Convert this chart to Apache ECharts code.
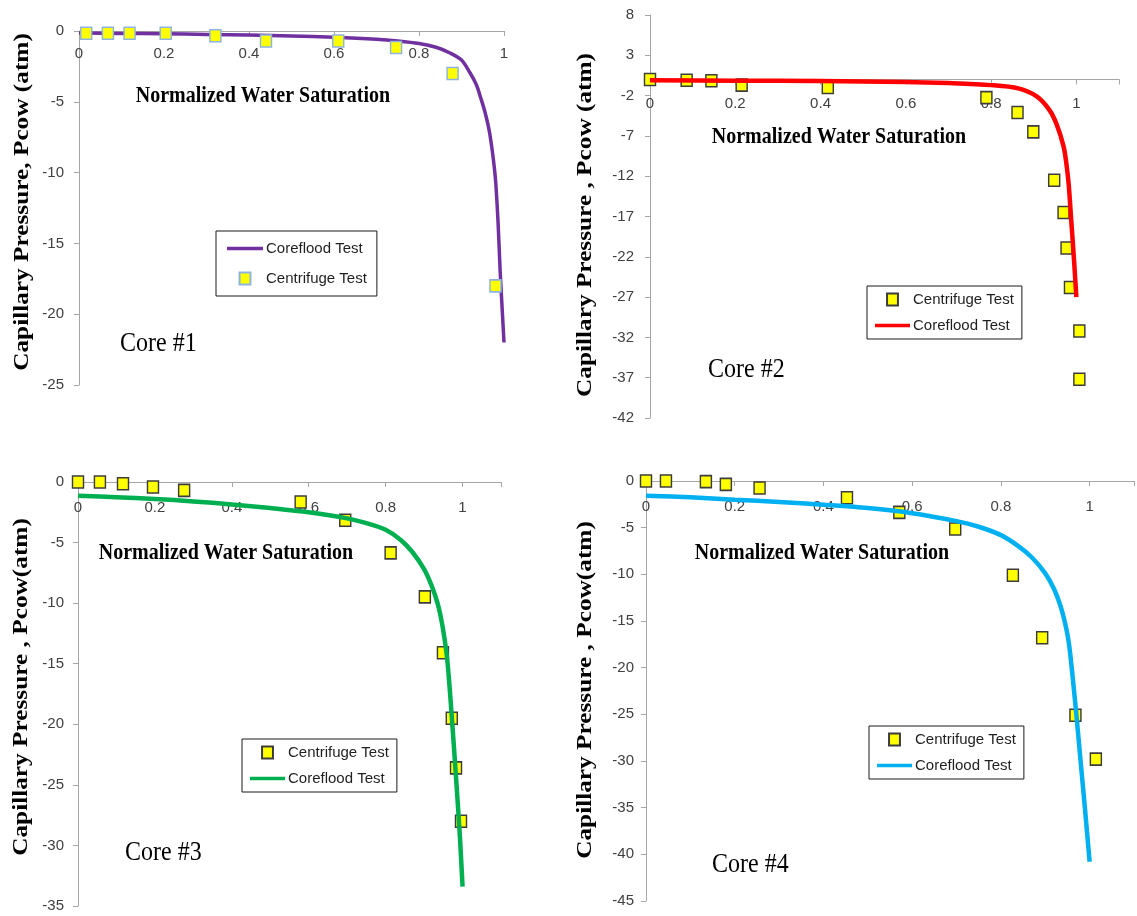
<!DOCTYPE html>
<html>
<head>
<meta charset="utf-8">
<script src="https://cdn.jsdelivr.net/npm/echarts@6/dist/echarts.min.js"></script>
<style>
  html, body { margin: 0; padding: 0; background: #ffffff; }
  #chart { width: 1137px; height: 916px; }
</style>
</head>
<body>
<div id="chart"></div>
<script>
// ---- Core #1 ----
const core1FloodSw = [0, 0.1, 0.2, 0.3, 0.4, 0.5, 0.6, 0.7, 0.75, 0.8, 0.84, 0.873, 0.9, 0.92, 0.935, 0.945, 0.955, 0.965, 0.973, 0.98, 0.986, 0.991, 0.996, 1.0];
const core1FloodPc = [-0.15, -0.17, -0.2, -0.24, -0.29, -0.35, -0.44, -0.58, -0.7, -0.88, -1.15, -1.55, -2.05, -2.95, -3.8, -4.7, -5.7, -7.0, -8.6, -10.5, -13.5, -17, -19.8, -22];
const core1CentSw = [0.017, 0.068, 0.119, 0.204, 0.321, 0.440, 0.610, 0.746, 0.879, 0.980];
const core1CentPc = [-0.16, -0.16, -0.16, -0.16, -0.33, -0.7, -0.7, -1.17, -3.0, -18.0];

// ---- Core #2 ----
const core2FloodSw = [0, 0.2, 0.4, 0.6, 0.7, 0.8, 0.864, 0.907, 0.937, 0.954, 0.97, 0.976, 0.982, 0.988, 0.994, 1.0];
const core2FloodPc = [-0.1, -0.15, -0.2, -0.3, -0.45, -0.7, -1.1, -2.1, -3.8, -5.6, -8.3, -10.2, -13, -17.5, -22, -27];
const core2CentSw = [0, 0.086, 0.144, 0.215, 0.417, 0.789, 0.862, 0.899, 0.948, 0.970, 0.977, 0.985, 1.007, 1.007];
const core2CentPc = [0, -0.1, -0.15, -0.7, -1.0, -2.25, -4.1, -6.5, -12.5, -16.5, -20.9, -25.8, -31.2, -37.2];

// ---- Core #3 ----
const core3FloodSw = [0, 0.1, 0.2, 0.3, 0.4, 0.5, 0.6, 0.7, 0.75, 0.8, 0.84, 0.87, 0.9, 0.92, 0.935, 0.945, 0.953, 0.96, 0.967, 0.975, 0.985, 0.993, 1.0];
const core3FloodPc = [-1.13, -1.25, -1.4, -1.6, -1.85, -2.15, -2.5, -3.0, -3.4, -3.95, -4.8, -5.8, -7.2, -8.6, -10.0, -11.4, -12.9, -14.6, -17.2, -20.7, -25.3, -29.2, -33.4];
const core3CentSw = [0, 0.057, 0.117, 0.195, 0.276, 0.579, 0.695, 0.813, 0.902, 0.949, 0.972, 0.983, 0.996];
const core3CentPc = [0, 0, -0.14, -0.41, -0.69, -1.65, -3.16, -5.85, -9.48, -14.1, -19.5, -23.6, -28.0];

// ---- Core #4 ----
const core4FloodSw = [0, 0.1, 0.2, 0.3, 0.4, 0.5, 0.6, 0.7, 0.75, 0.8, 0.84, 0.87, 0.9, 0.92, 0.935, 0.945, 0.953, 0.96, 0.97, 0.98, 0.99, 1.0];
const core4FloodPc = [-1.57, -1.75, -2.0, -2.25, -2.55, -2.9, -3.45, -4.3, -4.9, -5.8, -7.0, -8.2, -9.9, -11.6, -13.5, -15.3, -17.3, -20.2, -25.0, -30.2, -35.4, -40.8];
const core4CentSw = [0, 0.045, 0.135, 0.180, 0.256, 0.453, 0.571, 0.697, 0.827, 0.893, 0.968, 1.014];
const core4CentPc = [0, 0, -0.07, -0.36, -0.75, -1.79, -3.36, -5.15, -10.1, -16.8, -25.1, -29.8];

// Tick labels along the saturation axis
const swTickLabels = ['0', '0.2', '0.4', '0.6', '0.8', '1'];

const xTitle = 'Normalized Water Saturation';
const yTitles = [
  'Capillary Pressure, Pcow (atm)',
  'Capillary Pressure , Pcow (atm)',
  'Capillary Pressure , Pcow(atm)',
  'Capillary Pressure , Pcow(atm)'
];
const coreNames = ['Core #1', 'Core #2', 'Core #3', 'Core #4'];
const floodName = 'Coreflood Test';
const centName = 'Centrifuge Test';

const zip = (a, b) => a.map((v, i) => [v, b[i]]);

const SANS = '"Liberation Sans", Arial, sans-serif';
const SERIF = '"Liberation Serif", "Times New Roman", serif';
const AXIS_GREY = '#a6a6a6';
const LABEL_GREY = '#404040';

// Plot-area boxes and axis ranges of the four panels
const panels = [
  { left: 79,  top: 31,  width: 425, height: 354, xMax: 1.0, yMin: -25, yMax: 0, xMargin: 15, yMargin: 15,
    color: '#7030a0', lineW: 3.5, border: '#8db3e2', lineFirst: true,
    flood: zip(core1FloodSw, core1FloodPc), cent: zip(core1CentSw, core1CentPc) },
  { left: 650, top: 15,  width: 469, height: 403, xMax: 1.1, yMin: -42, yMax: 8, xMargin: 17, yMargin: 16,
    color: '#ff0000', lineW: 4.5, border: '#3c3c3c', lineFirst: false,
    flood: zip(core2FloodSw, core2FloodPc), cent: zip(core2CentSw, core2CentPc) },
  { left: 78,  top: 482, width: 423, height: 424, xMax: 1.1, yMin: -35, yMax: 0, xMargin: 18, yMargin: 14,
    color: '#00b050', lineW: 4.5, border: '#3c3c3c', lineFirst: false,
    flood: zip(core3FloodSw, core3FloodPc), cent: zip(core3CentSw, core3CentPc) },
  { left: 646, top: 481, width: 496, height: 420, xMax: 1.1, yMin: -45, yMax: 0, xMargin: 18, yMargin: 12,
    color: '#00b0f0', lineW: 4.5, border: '#3c3c3c', lineFirst: false,
    flood: zip(core4FloodSw, core4FloodPc), cent: zip(core4CentSw, core4CentPc) }
];

// Legend boxes, axis titles and core labels
const legendBoxes = [
  { left: 216, top: 231, padding: [10, 10, 10, 11], itemGap: 15, itemWidth: 36, order: ['flood', 'cent'] },
  { left: 867, top: 286, padding: [6, 8, 6, 8], itemGap: 11, itemWidth: 35, order: ['cent', 'flood'] },
  { left: 242, top: 739, padding: [6, 8, 6, 8], itemGap: 11, itemWidth: 35, order: ['cent', 'flood'] },
  { left: 869, top: 726, padding: [6, 8, 6, 8], itemGap: 11, itemWidth: 35, order: ['cent', 'flood'] }
];
const xTitlePos = [[263, 96], [839, 137], [226, 553], [822, 553]];
const yTitlePos = [[22, 202], [585, 225], [21, 687], [585, 690]];
const coreLabelPos = [[120, 344], [708, 370], [125, 853], [712, 865]];

const LINE_ICON = 'path://M0,0H40V4H0Z';
const SQUARE_ICON = 'path://M0,0H10V11H0Z';

const grid = [], xAxis = [], yAxis = [], series = [], legend = [], graphic = [];

panels.forEach((p, i) => {
  grid.push({ left: p.left, top: p.top, width: p.width, height: p.height, containLabel: false });

  // The saturation axis sits where Pcow = 0: pull a top axis down into the plot area.
  const zeroDrop = (p.yMax / (p.yMax - p.yMin)) * p.height;
  xAxis.push({
    gridIndex: i, type: 'value', min: 0, max: p.xMax, interval: 0.2,
    position: 'top', offset: -zeroDrop,
    axisLine: { show: true, onZero: false, lineStyle: { color: AXIS_GREY, width: 1 } },
    axisTick: { show: true, inside: true, length: 5, lineStyle: { color: AXIS_GREY } },
    axisLabel: {
      inside: true, margin: p.xMargin, fontFamily: SANS, fontSize: 15, color: LABEL_GREY,
      formatter: v => {
        const k = Math.round(v / 0.2);
        return (Math.abs(v - k * 0.2) < 1e-6 && k < swTickLabels.length) ? swTickLabels[k] : '';
      }
    },
    splitLine: { show: false }
  });

  yAxis.push({
    gridIndex: i, type: 'value', min: p.yMin, max: p.yMax, interval: 5,
    axisLine: { show: true, onZero: false, lineStyle: { color: AXIS_GREY, width: 1 } },
    axisTick: { show: true, length: 5, lineStyle: { color: AXIS_GREY } },
    axisLabel: { margin: p.yMargin, fontFamily: SANS, fontSize: 15, color: LABEL_GREY },
    splitLine: { show: false }
  });

  const floodSeries = {
    name: floodName + '|' + (i + 1), type: 'line', xAxisIndex: i, yAxisIndex: i,
    data: p.flood, showSymbol: false, symbol: 'none',
    smooth: 0.3,
    lineStyle: { color: p.color, width: p.lineW },
    itemStyle: { color: p.color },
    z: p.lineFirst ? 2 : 4
  };
  const centSeries = {
    name: centName + '|' + (i + 1), type: 'scatter', xAxisIndex: i, yAxisIndex: i,
    data: p.cent, symbol: 'rect', symbolSize: [11, 12],
    itemStyle: { color: '#ffff00', borderColor: p.border, borderWidth: 1.5, opacity: 1 },
    z: p.lineFirst ? 4 : 2
  };
  if (p.lineFirst) { series.push(floodSeries, centSeries); } else { series.push(centSeries, floodSeries); }

  const lb = legendBoxes[i];
  legend.push({
    orient: 'vertical', left: lb.left, top: lb.top, padding: lb.padding,
    itemGap: lb.itemGap, itemWidth: lb.itemWidth, itemHeight: 12,
    backgroundColor: '#ffffff', borderColor: '#1a1a1a', borderWidth: 1, borderRadius: 0,
    selectedMode: false,
    textStyle: { fontFamily: SANS, fontSize: 15, color: '#1f1f1f', padding: [0, 0, 0, -2] },
    formatter: name => name.split('|')[0],
    data: lb.order.map(k => k === 'flood'
      ? { name: floodName + '|' + (i + 1), icon: LINE_ICON }
      : { name: centName + '|' + (i + 1), icon: SQUARE_ICON })
  });

  graphic.push({
    type: 'text', x: xTitlePos[i][0], y: xTitlePos[i][1], scaleY: 1.15, z: 10,
    style: { text: xTitle, font: 'bold 20px ' + SERIF, fill: '#000000',
             textAlign: 'center', textVerticalAlign: 'middle', align: 'center', verticalAlign: 'middle' }
  });
  graphic.push({
    type: 'text', x: yTitlePos[i][0], y: yTitlePos[i][1], rotation: Math.PI / 2, scaleX: 1.15, z: 10,
    style: { text: yTitles[i], font: 'bold 22px ' + SERIF, fill: '#000000',
             textAlign: 'center', textVerticalAlign: 'middle', align: 'center', verticalAlign: 'middle' }
  });
  graphic.push({
    type: 'text', x: coreLabelPos[i][0], y: coreLabelPos[i][1], scaleY: 1.13, z: 10,
    style: { text: coreNames[i], font: '24px ' + SERIF, fill: '#000000',
             textAlign: 'left', textVerticalAlign: 'middle', align: 'left', verticalAlign: 'middle' }
  });
});

const chart = echarts.init(document.getElementById('chart'), null, { renderer: 'canvas' });
chart.setOption({
  backgroundColor: '#ffffff',
  animation: false,
  grid, xAxis, yAxis, series, legend, graphic
});
</script>
</body>
</html>
